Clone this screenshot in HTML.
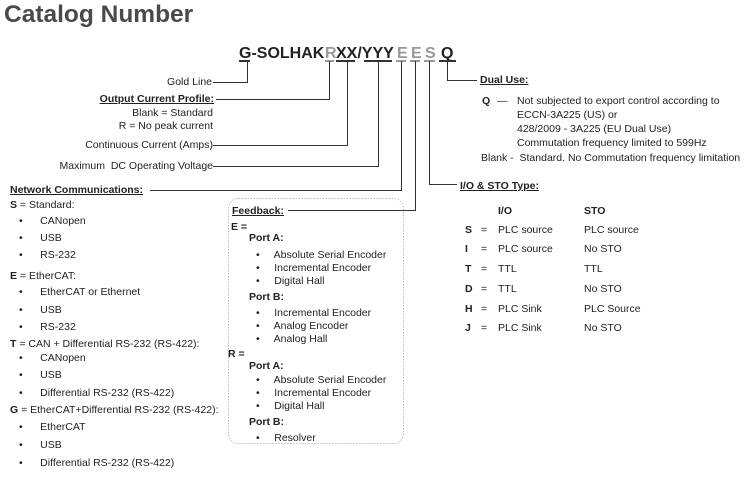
<!DOCTYPE html>
<html><head><meta charset="utf-8"><style>
body{margin:0;width:750px;height:479px;background:#fff;position:relative;overflow:hidden;font-family:"Liberation Sans",Arial,sans-serif;color:#222}
.t{position:absolute;font-size:10.5px;line-height:14px;white-space:nowrap}
.r{text-align:right}
.b{font-weight:bold}
.u{text-decoration:underline}
.c{position:absolute;font-size:16px;font-weight:bold;line-height:20px;top:44px;white-space:nowrap}
.g{color:#999}
.ul{position:absolute;height:1.5px;background:#333;top:60px}
</style></head><body>
<div style="position:absolute;left:4px;top:1px;font-size:24.5px;font-weight:bold;color:#4a4a4a">Catalog Number</div>

<div class="c" style="left:239px">G-SOLHAK</div>
<div class="c g" style="left:325px">R</div>
<div class="c" style="left:336px">XX/YYY</div>
<div class="c g" style="left:397px">E</div>
<div class="c g" style="left:411px">E</div>
<div class="c g" style="left:425px">S</div>
<div class="c" style="left:441px">Q</div>
<div class="ul" style="left:239px;width:11px"></div>
<div class="ul" style="left:325px;width:9px;background:#999"></div>
<div class="ul" style="left:336px;width:19px"></div>
<div class="ul" style="left:364px;width:28px"></div>
<div class="ul" style="left:396px;width:10px;background:#999"></div>
<div class="ul" style="left:410px;width:10px;background:#999"></div>
<div class="ul" style="left:424px;width:11px;background:#999"></div>
<div class="ul" style="left:439px;width:17px"></div>

<svg width="750" height="479" style="position:absolute;left:0;top:0" fill="none" stroke="#333" stroke-width="1">
<path d="M247.5 61V82.5H213"/>
<path d="M329.5 61V99.5H216"/>
<path d="M347.5 61V145.5H213"/>
<path d="M378.5 61V166.5H213"/>
<path d="M401.5 61V190.5H150"/>
<path d="M415.5 61V210.5H288"/>
<path d="M429.5 61V184.5H457"/>
<path d="M447.5 61V80.5H477"/>
<rect x="228.5" y="198.5" width="175" height="245" rx="10" stroke="#bbb" stroke-dasharray="1.5,1.5"/>
</svg>

<div class="t r" style="right:538px;top:75px">Gold Line</div>
<div class="t r b u" style="right:536px;top:92px">Output Current Profile:</div>
<div class="t r" style="right:537px;top:106px">Blank = Standard</div>
<div class="t r" style="right:537px;top:119px">R = No peak current</div>
<div class="t r" style="right:537px;top:138px">Continuous Current (Amps)</div>
<div class="t r" style="right:537px;top:159px">Maximum&nbsp; DC Operating Voltage</div>

<div class="t b u" style="left:10px;top:183px">Network Communications:</div>
<div class="t" style="left:10px;top:198px"><b>S</b> = Standard:</div>
<div class="t" style="left:19px;top:214px">•&nbsp;&nbsp;&nbsp;&nbsp;&nbsp; CANopen</div>
<div class="t" style="left:19px;top:231px">•&nbsp;&nbsp;&nbsp;&nbsp;&nbsp; USB</div>
<div class="t" style="left:19px;top:248px">•&nbsp;&nbsp;&nbsp;&nbsp;&nbsp; RS-232</div>
<div class="t" style="left:10px;top:269px"><b>E</b> = EtherCAT:</div>
<div class="t" style="left:19px;top:285px">•&nbsp;&nbsp;&nbsp;&nbsp;&nbsp; EtherCAT or Ethernet</div>
<div class="t" style="left:19px;top:303px">•&nbsp;&nbsp;&nbsp;&nbsp;&nbsp; USB</div>
<div class="t" style="left:19px;top:320px">•&nbsp;&nbsp;&nbsp;&nbsp;&nbsp; RS-232</div>
<div class="t" style="left:10px;top:337px"><b>T</b> = CAN + Differential RS-232 (RS-422):</div>
<div class="t" style="left:19px;top:351px">•&nbsp;&nbsp;&nbsp;&nbsp;&nbsp; CANopen</div>
<div class="t" style="left:19px;top:368px">•&nbsp;&nbsp;&nbsp;&nbsp;&nbsp; USB</div>
<div class="t" style="left:19px;top:386px">•&nbsp;&nbsp;&nbsp;&nbsp;&nbsp; Differential RS-232 (RS-422)</div>
<div class="t" style="left:10px;top:403px"><b>G</b> = EtherCAT+Differential RS-232 (RS-422):</div>
<div class="t" style="left:19px;top:420px">•&nbsp;&nbsp;&nbsp;&nbsp;&nbsp; EtherCAT</div>
<div class="t" style="left:19px;top:438px">•&nbsp;&nbsp;&nbsp;&nbsp;&nbsp; USB</div>
<div class="t" style="left:19px;top:456px">•&nbsp;&nbsp;&nbsp;&nbsp;&nbsp; Differential RS-232 (RS-422)</div>

<div class="t b u" style="left:232px;top:204px">Feedback:</div>
<div class="t b" style="left:231px;top:220px">E =</div>
<div class="t b" style="left:249px;top:231px">Port A:</div>
<div class="t" style="left:256px;top:248px">•&nbsp;&nbsp;&nbsp;&nbsp; Absolute Serial Encoder</div>
<div class="t" style="left:256px;top:261px">•&nbsp;&nbsp;&nbsp;&nbsp; Incremental Encoder</div>
<div class="t" style="left:256px;top:274px">•&nbsp;&nbsp;&nbsp;&nbsp; Digital Hall</div>
<div class="t b" style="left:249px;top:290px">Port B:</div>
<div class="t" style="left:256px;top:306px">•&nbsp;&nbsp;&nbsp;&nbsp; Incremental Encoder</div>
<div class="t" style="left:256px;top:319px">•&nbsp;&nbsp;&nbsp;&nbsp; Analog Encoder</div>
<div class="t" style="left:256px;top:332px">•&nbsp;&nbsp;&nbsp;&nbsp; Analog Hall</div>
<div class="t b" style="left:228px;top:347px">R =</div>
<div class="t b" style="left:249px;top:359px">Port A:</div>
<div class="t" style="left:256px;top:373px">•&nbsp;&nbsp;&nbsp;&nbsp; Absolute Serial Encoder</div>
<div class="t" style="left:256px;top:386px">•&nbsp;&nbsp;&nbsp;&nbsp; Incremental Encoder</div>
<div class="t" style="left:256px;top:399px">•&nbsp;&nbsp;&nbsp;&nbsp; Digital Hall</div>
<div class="t b" style="left:249px;top:415px">Port B:</div>
<div class="t" style="left:256px;top:431px">•&nbsp;&nbsp;&nbsp;&nbsp; Resolver</div>

<div class="t b u" style="left:480px;top:73px">Dual Use:</div>
<div class="t b" style="left:482px;top:94px">Q</div>
<div class="t" style="left:497px;top:94px">—</div>
<div class="t" style="left:517px;top:94px">Not subjected to export control according to</div>
<div class="t" style="left:517px;top:108px">ECCN-3A225 (US) or</div>
<div class="t" style="left:517px;top:122px">428/2009 - 3A225 (EU Dual Use)</div>
<div class="t" style="left:517px;top:136px">Commutation frequency limited to 599Hz</div>
<div class="t" style="left:481px;top:151px">Blank -&nbsp; Standard. No Commutation frequency limitation</div>

<div class="t b u" style="left:460px;top:179px">I/O &amp; STO Type:</div>
<div class="t b" style="left:498px;top:204px">I/O</div>
<div class="t b" style="left:584px;top:204px">STO</div>
<div class="t b" style="left:465px;top:223px">S</div><div class="t" style="left:481px;top:223px">=</div><div class="t" style="left:498px;top:223px">PLC source</div><div class="t" style="left:584px;top:223px">PLC source</div>
<div class="t b" style="left:465px;top:242px">I</div><div class="t" style="left:481px;top:242px">=</div><div class="t" style="left:498px;top:242px">PLC source</div><div class="t" style="left:584px;top:242px">No STO</div>
<div class="t b" style="left:465px;top:262px">T</div><div class="t" style="left:481px;top:262px">=</div><div class="t" style="left:498px;top:262px">TTL</div><div class="t" style="left:584px;top:262px">TTL</div>
<div class="t b" style="left:465px;top:282px">D</div><div class="t" style="left:481px;top:282px">=</div><div class="t" style="left:498px;top:282px">TTL</div><div class="t" style="left:584px;top:282px">No STO</div>
<div class="t b" style="left:465px;top:302px">H</div><div class="t" style="left:481px;top:302px">=</div><div class="t" style="left:498px;top:302px">PLC Sink</div><div class="t" style="left:584px;top:302px">PLC Source</div>
<div class="t b" style="left:465px;top:321px">J</div><div class="t" style="left:481px;top:321px">=</div><div class="t" style="left:498px;top:321px">PLC Sink</div><div class="t" style="left:584px;top:321px">No STO</div>
</body></html>
